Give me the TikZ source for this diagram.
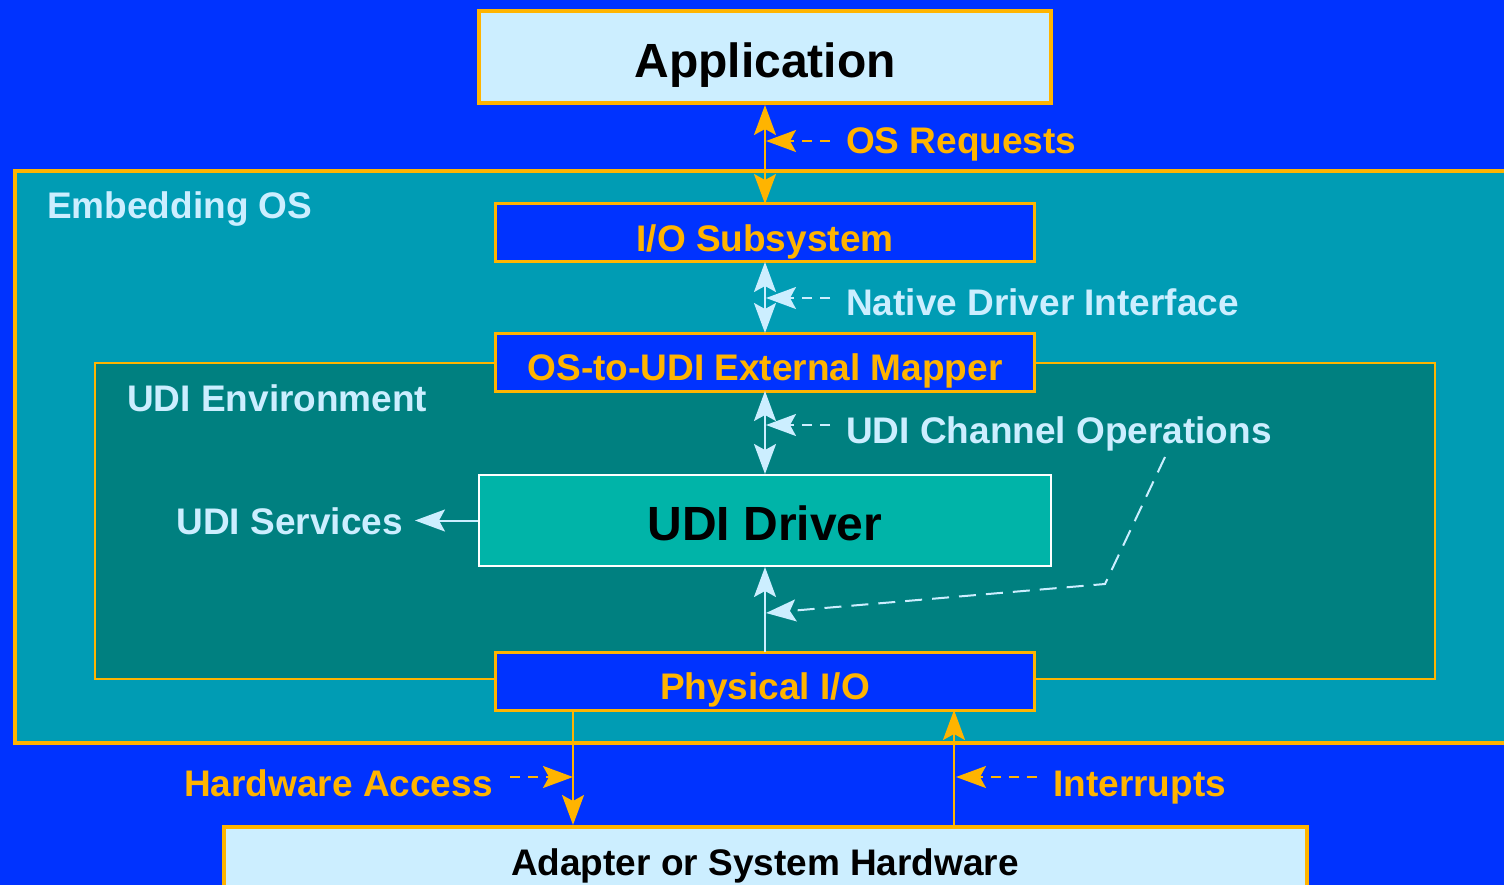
\documentclass[tikz,border=0pt]{standalone}
\usepackage{fontspec}
\setmainfont{Liberation Sans}
\usetikzlibrary{arrows.meta}
\definecolor{bgblue}{RGB}{0,51,255}
\definecolor{gold}{RGB}{255,180,0}
\definecolor{osteal}{RGB}{0,156,180}
\definecolor{envteal}{RGB}{0,128,128}
\definecolor{drvteal}{RGB}{0,180,168}
\definecolor{pale}{RGB}{204,238,255}
\tikzset{
  arr/.tip={Stealth[length=30pt, width=22pt, inset=6pt]},
  big/.style={font=\fontsize{48}{56}\selectfont\bfseries, text depth=0pt},
  mid/.style={font=\fontsize{37}{44}\selectfont\bfseries},
  layerbox/.style={draw=gold, line width=3pt, fill=bgblue, text=gold, mid,
    text height=36.5pt, text depth=0pt,
    minimum width=539pt, minimum height=58pt, inner sep=0pt, outer sep=0pt},
  link/.style={line width=2pt},
  ptr/.style={line width=2pt, dash pattern=on 10pt off 8pt, -{arr}},
  lbl/.style={mid, anchor=base west, inner sep=0pt},
}
\begin{document}
\begin{tikzpicture}[x=1pt, y=-1pt]
\useasboundingbox (0,0) rectangle (1504,885);
\clip (0,0) rectangle (1504,885);
\fill[bgblue] (0,0) rectangle (1504,885);

% Embedding OS and UDI environment regions
\draw[gold, line width=4pt, fill=osteal] (15,171) rectangle (1530,743);
\node[lbl, text=pale] (oslbl) at (47,219) {Embedding OS};
\draw[gold, line width=2pt, fill=envteal] (95,363) rectangle (1435,679);
\node[lbl, text=pale] (envlbl) at (127,411) {UDI Environment};

% Boxes
\node[draw=gold, line width=4pt, fill=pale, big, text=black, text height=40.4pt,
      minimum width=572pt, minimum height=92pt, inner sep=0pt] (app) at (765,57) {Application};
\node[layerbox] (ios) at (765,233) {I/O Subsystem};
\node[layerbox] (map) at (765,362) {OS-to-UDI External Mapper};
\node[draw=white, line width=2pt, fill=drvteal, big, text=black, text height=39.4pt,
      minimum width=572pt, minimum height=91pt, inner sep=0pt] (drv) at (765,520.5) {UDI Driver};
\node[layerbox] (phys) at (765,681) {Physical I/O};
\node[draw=gold, line width=4pt, fill=pale, mid, text=black,
      minimum width=1083pt, minimum height=78pt, inner sep=0pt] (hw) at (765,866) {Adapter or System Hardware};

% OS requests
\draw[gold, link, {arr}-{arr}] (app.south) -- (ios.north);
\coordinate (osr) at (766,141);
\draw[gold, ptr] (830,141) -- (osr);
\node[lbl, text=gold] (osrlbl) at (846,154) {OS Requests};

% Native driver interface
\draw[pale, link, {arr}-{arr}] (ios.south) -- (map.north);
\coordinate (ndi) at (766,298);
\draw[pale, ptr] (830,298) -- (ndi);
\node[lbl, text=pale] (ndilbl) at (846,315) {Native Driver Interface};

% UDI channel operations
\draw[pale, link, {arr}-{arr}] (map.south) -- (drv.north);
\coordinate (chn) at (766,425);
\draw[pale, ptr] (830,425) -- (chn);
\node[lbl, text=pale] (chnlbl) at (846,443) {UDI Channel Operations};

% Physical I/O up to the driver, also a channel operation
\draw[pale, link, -{arr}] (phys.north) -- (drv.south);
\coordinate (chn2) at (766,613);
\coordinate (bend) at (1105,584);
\coordinate (bstart) at (1165,457);
\draw[pale, line width=2pt, dash pattern=on 17pt off 10pt, -{arr}] (bstart) -- (bend) -- (chn2);

% UDI services
\node[mid, text=pale, anchor=base east, inner sep=0pt] (svc) at (403,534) {UDI Services};
\coordinate (svctip) at (415,520.5);
\draw[pale, link, -{arr}] (drv.west) -- (svctip);

% Hardware access and interrupts
\coordinate (hax) at (573,0);
\coordinate (irx) at (954,0);
\draw[gold, link, -{arr}] (phys.south -| hax) -- (hw.north -| hax);
\draw[gold, link, -{arr}] (hw.north -| irx) -- (phys.south -| irx);
\coordinate (hap) at (573,777);
\coordinate (irp) at (956,777);
\draw[gold, ptr] (510,777) -- (hap);
\draw[gold, ptr] (1037,777) -- (irp);
\node[mid, text=gold, anchor=base east, inner sep=0pt] (halbl) at (493,796) {Hardware Access};
\node[lbl, text=gold] (irlbl) at (1053,796) {Interrupts};
\end{tikzpicture}
\end{document}
